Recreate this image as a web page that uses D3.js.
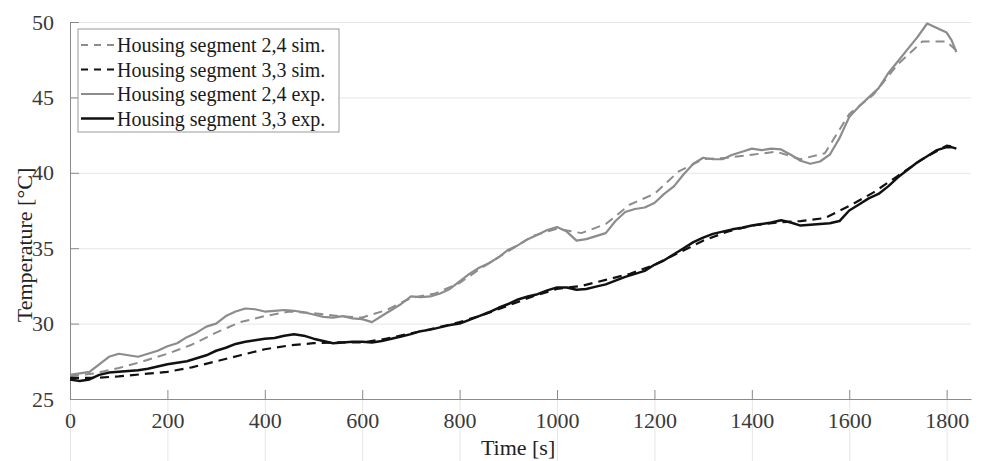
<!DOCTYPE html>
<html>
<head>
<meta charset="utf-8">
<script src="https://cdn.jsdelivr.net/npm/d3@7"></script>
<style>
  body { margin: 0; background: #fff; }
  svg { display: block; font-family: "Liberation Serif", "Times New Roman", serif; }
  .grid line { stroke: #e6e6e6; stroke-width: 1; }
  .axis path, .axis line { stroke: #8a8a8a; }
</style>
</head>
<body>
<svg width="986" height="461"></svg>
<script>
// measured time stamps (s)
var tExp = [0,20,40,60,80,100,120,140,160,180,200,220,240,260,280,300,320,340,360,380,400,
  420,440,460,480,500,520,540,560,580,600,620,640,660,680,700,720,740,760,780,800,
  820,840,860,880,900,920,940,960,980,1000,1020,1040,1060,1080,1100,1120,1140,1160,1180,1200,
  1220,1240,1260,1280,1300,1320,1340,1360,1380,1400,1420,1440,1460,1480,1500,1520,1540,1560,1580,1600,
  1620,1640,1660,1680,1700,1720,1740,1760,1780,1800,1810,1820];
var tSim = [0,50,100,150,200,250,300,350,400,450,500,550,600,650,700,750,800,850,900,950,
  1000,1050,1100,1150,1200,1250,1300,1350,1400,1450,1500,1550,1600,1650,1700,1750,1800,1820];

var exp24 = [26.6,26.7,26.8,27.3,27.8,28.0,27.9,27.8,28.0,28.2,28.5,28.7,29.1,29.4,29.8,30.0,30.5,30.8,31.0,30.95,30.8,
  30.85,30.9,30.85,30.75,30.6,30.45,30.4,30.5,30.35,30.3,30.1,30.5,30.9,31.3,31.8,31.75,31.8,32.0,32.3,32.8,
  33.3,33.7,34.0,34.4,34.9,35.2,35.6,35.9,36.2,36.4,36.1,35.5,35.6,35.8,36.0,36.8,37.4,37.6,37.7,38.0,
  38.6,39.1,39.9,40.6,41.0,40.9,40.9,41.2,41.4,41.6,41.5,41.6,41.55,41.2,40.8,40.6,40.75,41.2,42.3,43.7,
  44.4,45.0,45.6,46.6,47.4,48.2,49.0,49.9,49.6,49.3,48.8,48.0];
var exp33 = [26.3,26.2,26.3,26.6,26.75,26.8,26.85,26.9,27.0,27.15,27.3,27.4,27.5,27.7,27.9,28.2,28.4,28.65,28.8,28.9,29.0,
  29.05,29.2,29.3,29.2,29.0,28.85,28.7,28.75,28.8,28.8,28.75,28.85,29.0,29.15,29.3,29.5,29.6,29.75,29.9,30.0,
  30.25,30.5,30.75,31.05,31.3,31.6,31.8,31.95,32.2,32.4,32.4,32.25,32.3,32.45,32.6,32.85,33.1,33.3,33.5,33.9,
  34.2,34.6,35.0,35.4,35.7,35.95,36.1,36.25,36.35,36.5,36.6,36.7,36.85,36.7,36.5,36.55,36.6,36.65,36.8,37.5,
  37.9,38.3,38.6,39.1,39.7,40.2,40.7,41.1,41.5,41.7,41.7,41.6];
var sim24 = [26.5,26.7,27.05,27.5,28.0,28.6,29.4,30.1,30.5,30.8,30.7,30.5,30.4,30.9,31.7,32.0,32.7,33.8,34.8,35.8,
  36.3,36.0,36.6,37.9,38.6,40.1,40.9,41.0,41.2,41.4,40.9,41.3,43.9,45.2,47.2,48.7,48.7,48.1];
var sim33 = [26.4,26.4,26.5,26.65,26.8,27.1,27.5,27.9,28.3,28.55,28.7,28.75,28.75,29.0,29.35,29.7,30.1,30.6,31.2,31.8,
  32.3,32.5,32.9,33.3,33.9,34.7,35.5,36.1,36.5,36.7,36.8,37.0,37.8,38.7,39.8,40.9,41.8,41.7];

var xTicks = [0,200,400,600,800,1000,1200,1400,1600,1800];
var yTicks = [25,30,35,40,45,50];
var legendLabels = ["Housing segment 2,4 sim.", "Housing segment 3,3 sim.",
                    "Housing segment 2,4 exp.", "Housing segment 3,3 exp."];

var svg = d3.select("svg"),
    margin = {top: 22, right: 15, bottom: 62, left: 70},
    width = svg.attr("width") - margin.left - margin.right,
    height = svg.attr("height") - margin.top - margin.bottom,
    g = svg.append("g").attr("transform", "translate(" + margin.left + "," + margin.top + ")");

var x = d3.scaleLinear().domain([0, 1850]).range([0, width]),
    y = d3.scaleLinear().domain([25, 50]).range([height, 0]);

var series = [
  {name: legendLabels[0], t: tSim, v: sim24, color: "#8c8c8c", width: 2, dash: "9,6"},
  {name: legendLabels[1], t: tSim, v: sim33, color: "#111", width: 2.2, dash: "9,6"},
  {name: legendLabels[2], t: tExp, v: exp24, color: "#8c8c8c", width: 2.2, dash: null},
  {name: legendLabels[3], t: tExp, v: exp33, color: "#111", width: 2.5, dash: null}
];

// gridlines
g.append("g").attr("class", "grid")
    .call(d3.axisLeft(y).tickValues(yTicks).tickSize(-width).tickFormat(""))
  .select(".domain").remove();
g.append("g").attr("class", "grid")
    .attr("transform", "translate(0," + height + ")")
    .call(d3.axisBottom(x).tickValues(xTicks).tickSize(height).tickFormat(""))
  .select(".domain").remove();

// axes (ticks pointing inward)
var xAxis = g.append("g").attr("class", "axis")
    .attr("transform", "translate(0," + height + ")")
    .call(d3.axisBottom(x).tickValues(xTicks).tickFormat(d3.format("d"))
      .tickSizeInner(-9).tickSizeOuter(0).tickPadding(13));
xAxis.selectAll("text").attr("dy", "0.71em");
var yAxis = g.append("g").attr("class", "axis")
    .call(d3.axisLeft(y).tickValues(yTicks).tickFormat(d3.format("d"))
      .tickSizeInner(-9).tickSizeOuter(0).tickPadding(16));
g.selectAll(".axis")
    .attr("font-family", "Liberation Serif, serif")
    .attr("font-size", 22)
  .selectAll("text")
    .attr("fill", "#3a3a3a")
    .style("font-family", "'Liberation Serif', serif");

var line = d3.line()
    .x(function(d) { return x(d[0]); })
    .y(function(d) { return y(d[1]); });

// draw sims first, exp on top
series.forEach(function(s) {
  g.append("path")
      .attr("d", line(s.t.map(function(t, i) { return [t, s.v[i]]; })))
      .attr("fill", "none")
      .attr("stroke", s.color)
      .attr("stroke-width", s.width)
      .attr("stroke-dasharray", s.dash)
      .attr("stroke-linejoin", "round");
});

// axis labels
svg.append("text")
    .attr("x", margin.left + x(920))
    .attr("y", 455)
    .attr("text-anchor", "middle")
    .attr("font-size", 22)
    .attr("fill", "#222")
    .text("Time [s]");
svg.append("text")
    .attr("transform", "translate(32,245) rotate(-90)")
    .attr("text-anchor", "middle")
    .attr("font-size", 22)
    .attr("fill", "#222")
    .text("Temperature [°C]");

// legend
var legend = svg.append("g").attr("transform", "translate(78,29)");
legend.append("rect")
    .attr("width", 261).attr("height", 103)
    .attr("fill", "#fff").attr("stroke", "#9a9a9a");
series.forEach(function(s, i) {
  var ly = 16 + i * 24.5;
  legend.append("line")
      .attr("x1", 3).attr("x2", 36).attr("y1", ly).attr("y2", ly)
      .attr("stroke", s.color).attr("stroke-width", s.width)
      .attr("stroke-dasharray", s.dash ? "7,6" : null);
  legend.append("text")
      .attr("x", 39).attr("y", ly).attr("dy", "0.35em")
      .attr("font-size", 20).attr("fill", "#1a1a1a")
      .text(s.name);
});
</script>
</body>
</html>
